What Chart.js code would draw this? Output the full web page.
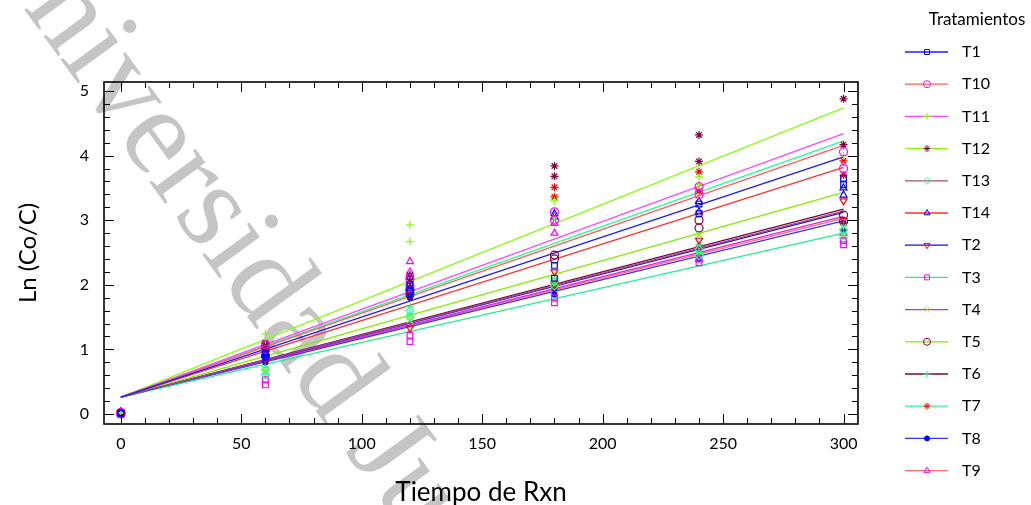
<!DOCTYPE html>
<html>
<head>
<meta charset="utf-8">
<title>Ln (Co/C) vs Tiempo de Rxn</title>
<script src="https://cdn.jsdelivr.net/npm/chart.js@4.4.0/dist/chart.umd.min.js"></script>
<style>
  html, body { margin: 0; padding: 0; background: #fff; }
  #chart { display: block; }
</style>
</head>
<body>
<canvas id="chart" width="1031" height="505"></canvas>
<script>
var treatments = ['T1', 'T10', 'T11', 'T12', 'T13', 'T14', 'T2', 'T3', 'T4', 'T5', 'T6', 'T7', 'T8', 'T9'];
var xTickValues = [0, 50, 100, 150, 200, 250, 300];
var yTickValues = [0, 1, 2, 3, 4, 5];

// fitted lines: value at t = 0 and t = 300
var fitTimes = [0, 300];
var fitStart = [0.26, 0.26, 0.26, 0.26, 0.26, 0.26, 0.26, 0.26, 0.26, 0.26, 0.26, 0.26, 0.26, 0.26];
var fitEnd = [3.98, 4.16, 4.34, 4.74, 3.14, 3.82, 3.12, 2.80, 3.06, 3.43, 3.17, 4.23, 2.99, 3.03];

// observations, two per time
var obsTimes = [0, 0, 60, 60, 120, 120, 180, 180, 240, 240, 300, 300];
var obsT1  = [0.01, 0.02, 0.95, 0.88, 2.00, 1.90, 2.30, 2.10, 3.25, 3.10, 3.65, 3.55];
var obsT10 = [0.02, 0.00, 1.08, 1.00, 2.10, 1.98, 3.13, 3.00, 3.52, 3.40, 4.06, 3.80];
var obsT11 = [0.01, 0.02, 1.24, 1.15, 2.93, 2.67, 3.30, 3.05, 3.67, 3.55, 4.00, 3.85];
var obsT12 = [0.02, 0.01, 1.10, 1.05, 2.15, 2.05, 3.84, 3.68, 4.32, 3.91, 4.88, 4.17];
var obsT13 = [0.00, 0.01, 0.68, 0.60, 1.60, 1.50, 2.05, 1.98, 2.55, 2.45, 2.85, 2.72];
var obsT14 = [0.01, 0.03, 1.00, 0.92, 2.12, 1.95, 3.10, 3.05, 3.29, 3.13, 3.50, 3.39];
var obsT2  = [0.02, 0.01, 0.98, 0.85, 1.33, 1.90, 2.20, 2.00, 2.69, 2.55, 3.30, 3.00];
var obsT3  = [0.00, -0.01, 0.53, 0.45, 1.22, 1.12, 1.72, 1.80, 2.40, 2.34, 2.68, 2.62];
var obsT4  = [0.01, 0.00, 0.70, 0.65, 1.50, 1.45, 2.08, 2.00, 2.77, 2.45, 2.90, 2.75];
var obsT5  = [0.02, 0.01, 1.00, 0.90, 1.92, 1.85, 2.46, 2.40, 3.00, 2.88, 3.08, 2.98];
var obsT6  = [0.01, 0.02, 0.73, 0.62, 1.66, 1.55, 2.10, 2.03, 2.62, 2.50, 2.92, 2.80];
var obsT7  = [0.02, 0.01, 1.05, 0.98, 2.05, 1.95, 3.51, 3.36, 3.75, 3.45, 3.92, 3.70];
var obsT8  = [0.01, 0.00, 0.85, 0.80, 1.85, 1.80, 1.95, 1.85, 2.48, 2.40, 2.95, 2.85];
var obsT9  = [0.03, 0.02, 1.05, 0.95, 2.36, 2.20, 2.95, 2.80, 2.60, 2.40, 2.80, 2.70];
var observations = [obsT1, obsT10, obsT11, obsT12, obsT13, obsT14, obsT2, obsT3, obsT4, obsT5, obsT6, obsT7, obsT8, obsT9];

// styles
var lineColors = ['#1a1aff', '#ff5c5c', '#ff45ff', '#88ff10', '#a0507c', '#ff3030', '#1010e0', '#20f090', '#e020e0', '#80ee00', '#800040', '#20ff90', '#3535ff', '#ff6c6c'];
var markerColors = ['#0000ff', '#ff00ff', '#80ff00', '#800040', '#20ff90', '#0000ff', '#ff0000', '#ff00ff', '#80ff00', '#800040', '#20ff90', '#ff0000', '#0000ff', '#ff00ff'];
var markerStyles = ['rect', 'circle', 'cross', 'star', 'rectRot', 'triangle', 'triangle', 'rect', 'crossRot', 'circle', 'cross', 'star', 'circle', 'triangle'];
var markerRotation = [0, 0, 0, 0, 0, 0, 180, 0, 0, 0, 0, 0, 0, 0];
var markerFilled = [false, false, false, false, false, false, false, false, false, false, false, false, true, false];

var FONT = 'Lato, "Open Sans", sans-serif';

(function(){
    var datasets = [];

    for( var i = 0; i < treatments.length; i++ ){
        datasets.push({
            type: 'line',
            label: treatments[i] + ' ajuste',
            data: [
                { x: fitTimes[0], y: fitStart[i] },
                { x: fitTimes[1], y: fitEnd[i] }
            ],
            borderColor: lineColors[i],
            borderWidth: 1.3,
            pointRadius: 0,
            fill: false,
            order: 2
        });
    }

    for( var j = 0; j < treatments.length; j++ ){
        var pts = [];
        for( var k = 0; k < obsTimes.length; k++ ){
            pts.push({ x: obsTimes[k], y: observations[j][k] });
        }
        datasets.push({
            type: 'scatter',
            label: treatments[j],
            data: pts,
            borderColor: markerColors[j],
            backgroundColor: markerFilled[j] ? markerColors[j] : 'rgba(0,0,0,0)',
            borderWidth: 1.2,
            pointStyle: markerStyles[j],
            pointRotation: markerRotation[j],
            pointRadius: markerFilled[j] ? 2.5 : 4,
            order: 1
        });
    }

    var paperPlugin = {
        id: 'paper',
        beforeDraw: function(chart){
            drawWatermark(chart);
        },
        afterDraw: function(chart){
            drawFrame(chart);
            drawLegend(chart);
        }
    };

    new Chart(document.getElementById('chart'), {
        type: 'scatter',
        data: { datasets: datasets },
        options: {
            responsive: false,
            animation: false,
            layout: { padding: { left: 0, top: 82, right: 173, bottom: 0 } },
            plugins: {
                legend: { display: false },
                tooltip: { enabled: false }
            },
            scales: {
                x: {
                    type: 'linear',
                    min: -7,
                    max: 306,
                    grid: { display: false, drawTicks: false },
                    border: { display: false },
                    afterBuildTicks: function(scale){
                        scale.ticks = xTickValues.map(function(v){ return { value: v }; });
                    },
                    afterFit: function(scale){ scale.height = 81; },
                    ticks: {
                        padding: 10,
                        color: '#000',
                        font: { family: FONT, size: 16 }
                    },
                    title: {
                        display: true,
                        text: 'Tiempo de Rxn',
                        color: '#000',
                        font: { family: FONT, size: 26 },
                        padding: { top: 0, bottom: -3 }
                    }
                },
                y: {
                    type: 'linear',
                    min: -0.155,
                    max: 5.14,
                    grid: { display: false, drawTicks: false },
                    border: { display: false },
                    afterBuildTicks: function(scale){
                        scale.ticks = yTickValues.map(function(v){ return { value: v }; });
                    },
                    afterFit: function(scale){ scale.width = 104; },
                    ticks: {
                        padding: 15,
                        color: '#000',
                        font: { family: FONT, size: 16 }
                    },
                    title: {
                        display: true,
                        text: 'Ln (Co/C)',
                        color: '#000',
                        font: { family: FONT, size: 24 },
                        padding: { top: 14, bottom: 0 }
                    }
                }
            }
        },
        plugins: [paperPlugin]
    });

    function drawWatermark(chart){
        var ctx = chart.ctx;
        ctx.save();
        ctx.translate(-30, -65);
        ctx.rotate(54 * Math.PI / 180);
        ctx.font = '124px "Liberation Serif", "DejaVu Serif", serif';
        ctx.fillStyle = 'rgba(150,150,150,0.55)';
        ctx.textBaseline = 'alphabetic';
        ctx.fillText('Universidad Juárez del Estado de Durango', 0, 0);
        ctx.restore();
    }

    function drawFrame(chart){
        var ctx = chart.ctx;
        var area = chart.chartArea;
        var xs = chart.scales.x;
        var ys = chart.scales.y;
        var v, p, len;

        ctx.save();
        ctx.strokeStyle = '#000';
        ctx.lineWidth = 1;
        ctx.beginPath();

        // x ticks every 10, longer at every 50
        for( v = 0; v <= 300; v += 10 ){
            p = Math.round(xs.getPixelForValue(v)) + 0.5;
            len = (v % 50 === 0) ? 10 : 6;
            ctx.moveTo(p, area.bottom);
            ctx.lineTo(p, area.bottom - len);
            ctx.moveTo(p, area.top);
            ctx.lineTo(p, area.top + len);
        }

        // y ticks every 0.2, longer at integers
        for( var n = 0; n <= 25; n++ ){
            v = n * 0.2;
            p = Math.round(ys.getPixelForValue(v)) + 0.5;
            len = (n % 5 === 0) ? 10 : 6;
            ctx.moveTo(area.left, p);
            ctx.lineTo(area.left + len, p);
            ctx.moveTo(area.right, p);
            ctx.lineTo(area.right - len, p);
        }
        ctx.stroke();

        ctx.lineWidth = 1.6;
        ctx.strokeRect(area.left, area.top, area.right - area.left, area.bottom - area.top);
        ctx.restore();
    }

    function drawLegend(chart){
        var ctx = chart.ctx;
        var top = 52;
        var step = 32.2;

        ctx.save();
        ctx.fillStyle = '#000';
        ctx.font = '17px ' + FONT;
        ctx.textAlign = 'center';
        ctx.textBaseline = 'middle';
        ctx.fillText('Tratamientos', 977, 20);

        for( var i = 0; i < treatments.length; i++ ){
            var y = top + i * step;

            ctx.strokeStyle = lineColors[i];
            ctx.lineWidth = 1.3;
            ctx.beginPath();
            ctx.moveTo(905, y);
            ctx.lineTo(948, y);
            ctx.stroke();

            ctx.strokeStyle = markerColors[i];
            ctx.fillStyle = markerFilled[i] ? markerColors[i] : 'rgba(0,0,0,0)';
            ctx.lineWidth = 1;
            Chart.helpers.drawPoint(ctx, {
                pointStyle: markerStyles[i],
                radius: markerFilled[i] ? 2.5 : 3.5,
                rotation: markerRotation[i],
                borderWidth: 1
            }, 927, y);

            ctx.fillStyle = '#000';
            ctx.font = '16px ' + FONT;
            ctx.textAlign = 'left';
            ctx.textBaseline = 'middle';
            ctx.fillText(treatments[i], 962, y);
        }
        ctx.restore();
    }
})();
</script>
</body>
</html>
